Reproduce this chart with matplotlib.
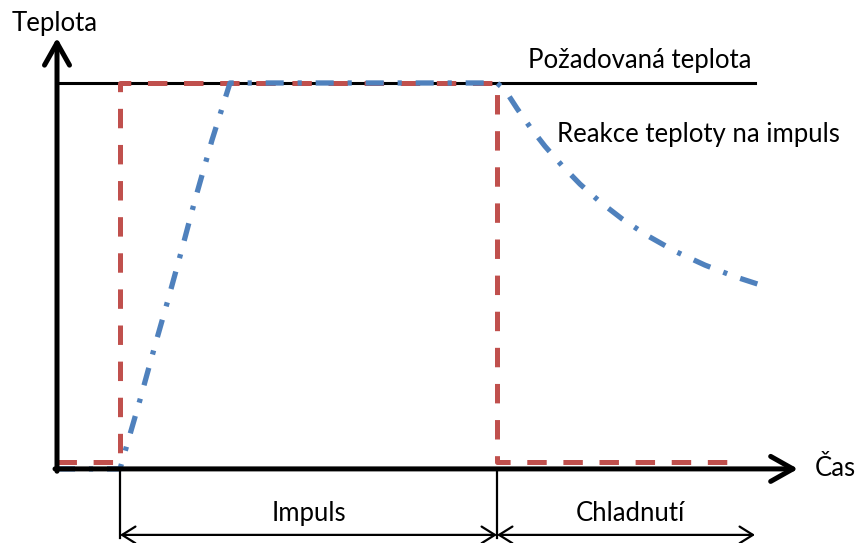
import numpy as np
import matplotlib.pyplot as plt

plt.rcParams['font.family'] = ['Lato', 'DejaVu Sans']
plt.rcParams['lines.scale_dashes'] = False

# casova osa (libovolne jednotky) a teplota (pozadovana = 100)
t_impuls_start = 6.3
t_impuls_end = 44.0
t_konec = 69.8
T_pozadovana = 100

# ohrev (cervena prerusovana)
t_ohrev = [0, 6.3, 6.3, 44.0, 44.0, 68.1]
T_ohrev = [1.8, 1.8, 100, 100, 1.8, 1.8]

# odezva teploty (modra carka-tecka)
t_odezva = [0, 6.3, 8.3, 9.8, 11.1, 12.5, 13.8, 15.5, 17.3, 44.0, 44.8, 46.0,
            47.3, 48.8, 50.5, 52.3, 54.3, 56.5, 59.0, 61.8, 64.8, 67.8, 70.3]
T_odezva = [0, 0, 17.9, 32.0, 43.8, 57.0, 69.7, 85.2, 100, 100, 98.2, 93.4,
            88.6, 83.6, 78.6, 73.8, 69.2, 64.8, 60.5, 56.4, 52.8, 49.8, 47.7]

fig = plt.figure(figsize=(8.58, 5.43), dpi=100)
ax = fig.add_axes([0, 0, 1, 1])
ax.set_xlim(-5.7, 80.1)
ax.set_ylim(-19.2, 121.5)
ax.axis('off')

# pozadovana teplota
ax.plot([0, t_konec], [T_pozadovana, T_pozadovana], color='black', lw=2.2)

ax.plot(t_ohrev, T_ohrev, color='#c0504d', lw=3.6, dashes=(14, 12),
        dash_capstyle='butt', solid_joinstyle='miter')
ax.plot(t_odezva, T_odezva, color='#4f81bd', lw=3.8, dashes=(13, 10, 3, 10),
        dash_capstyle='butt')

# osy se sipkami
ax.annotate('', xy=(0, 111.7), xytext=(0, -0.6),
            arrowprops=dict(arrowstyle='->,head_length=0.8,head_width=0.45',
                            lw=3.6, color='black', mutation_scale=20,
                            shrinkA=0, shrinkB=0))
ax.annotate('', xy=(74.1, 0), xytext=(-0.2, 0),
            arrowprops=dict(arrowstyle='->,head_length=0.8,head_width=0.45',
                            lw=3.6, color='black', mutation_scale=20,
                            shrinkA=0, shrinkB=0))

# useky dole
for tx in [t_impuls_start, t_impuls_end]:
    ax.plot([tx, tx], [0, -17.8], color='black', lw=1.6)
for a, b in [(t_impuls_start, t_impuls_end), (t_impuls_end, t_konec)]:
    ax.annotate('', xy=(b, -17.1), xytext=(a, -17.1),
                arrowprops=dict(arrowstyle='<->,head_length=0.8,head_width=0.5',
                                lw=1.6, color='black', mutation_scale=12,
                                shrinkA=0, shrinkB=0))

fs = 18.5
ax.text(-4.5, 113.5, 'Teplota', fontsize=fs, va='baseline')
ax.text(47.1, 103.9, 'Požadovaná teplota', fontsize=fs, va='baseline')
ax.text(50.0, 84.7, 'Reakce teploty na impuls', fontsize=fs, va='baseline')
ax.text(75.8, -1.8, 'Čas', fontsize=fs, va='baseline')
ax.text((t_impuls_start + t_impuls_end) / 2, -13.5, 'Impuls', fontsize=fs,
        va='baseline', ha='center')
ax.text(57.3, -13.5, 'Chladnutí', fontsize=fs, va='baseline', ha='center')

fig.savefig('out.png', dpi=100)
